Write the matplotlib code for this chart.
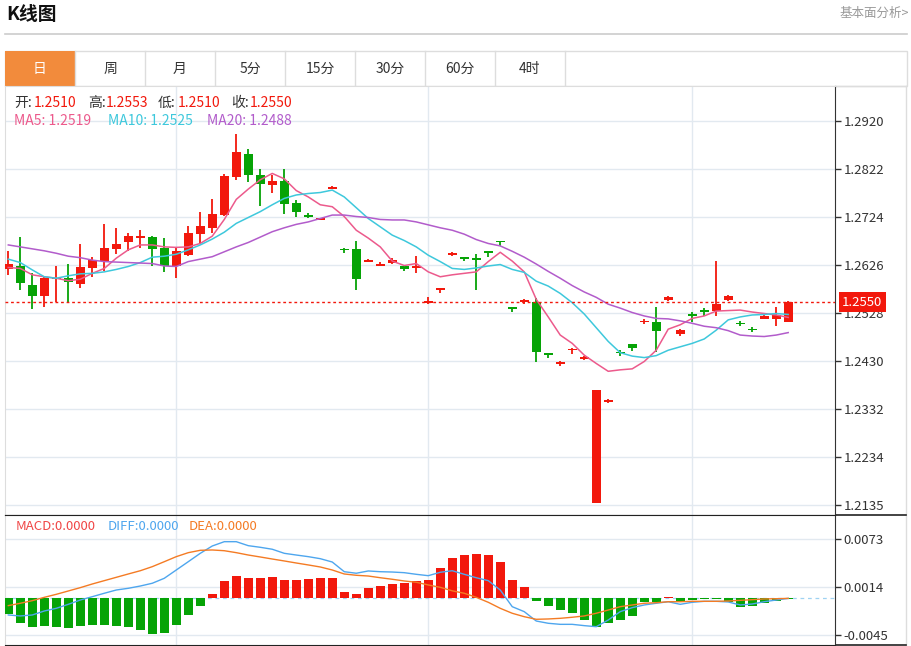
import matplotlib
matplotlib.use("Agg")
import matplotlib.pyplot as plt
import numpy as np
from matplotlib.patches import Rectangle

plt.rcParams["font.family"] = ["Noto Sans CJK SC", "DejaVu Sans"]

# ---- data (66 daily candles) ----
opens = [1.2618, 1.2623, 1.2585, 1.2563, 1.2598, 1.2599, 1.2588, 1.2620, 1.2634, 1.2658,
         1.2672, 1.2682, 1.2684, 1.2661, 1.2623, 1.2646, 1.2689, 1.2702, 1.2728, 1.2806,
         1.2852, 1.2809, 1.2790, 1.2798, 1.2753, 1.2729, 1.2718, 1.2782, 1.2659, 1.2658,
         1.2633, 1.2625, 1.2630, 1.2623, 1.2620, 1.2548, 1.2575, 1.2646, 1.2642, 1.2641,
         1.2654, 1.2676, 1.2540, 1.2550, 1.2551, 1.2446, 1.2424, 1.2452, 1.2434, 1.2141,
         1.2347, 1.2449, 1.2464, 1.2510, 1.2510, 1.2555, 1.2485, 1.2526, 1.2534, 1.2532,
         1.2555, 1.2508, 1.2496, 1.2516, 1.2516, 1.2510]
closes = [1.2628, 1.2590, 1.2563, 1.2599, 1.2599, 1.2591, 1.2622, 1.2636, 1.2660, 1.2669,
          1.2685, 1.2685, 1.2659, 1.2624, 1.2655, 1.2691, 1.2706, 1.2730, 1.2808, 1.2857,
          1.2810, 1.2791, 1.2797, 1.2751, 1.2734, 1.2725, 1.2721, 1.2786, 1.2656, 1.2598,
          1.2637, 1.2629, 1.2636, 1.2618, 1.2625, 1.2553, 1.2579, 1.2650, 1.2639, 1.2636,
          1.2650, 1.2673, 1.2536, 1.2554, 1.2449, 1.2443, 1.2427, 1.2455, 1.2438, 1.2371,
          1.2350, 1.2446, 1.2456, 1.2512, 1.2491, 1.2561, 1.2494, 1.2522, 1.2531, 1.2546,
          1.2562, 1.2505, 1.2493, 1.2522, 1.2523, 1.2550]
highs = [1.2655, 1.2683, 1.2609, 1.2604, 1.2624, 1.2629, 1.2669, 1.2642, 1.2710, 1.2702,
         1.2691, 1.2697, 1.2686, 1.2682, 1.2663, 1.2706, 1.2734, 1.2761, 1.2811, 1.2893,
         1.2862, 1.2823, 1.2810, 1.2823, 1.2759, 1.2732, 1.2723, 1.2787, 1.2660, 1.2675,
         1.2638, 1.2632, 1.2640, 1.2623, 1.2644, 1.2561, 1.2579, 1.2653, 1.2642, 1.2648,
         1.2655, 1.2676, 1.2540, 1.2556, 1.2558, 1.2446, 1.2430, 1.2456, 1.2440, 1.2371,
         1.2352, 1.2452, 1.2464, 1.2515, 1.2541, 1.2562, 1.2495, 1.2531, 1.2538, 1.2634,
         1.2564, 1.2511, 1.2500, 1.2524, 1.2541, 1.2553]
lows = [1.2606, 1.2574, 1.2536, 1.2541, 1.2550, 1.2550, 1.2580, 1.2602, 1.2613, 1.2648,
        1.2655, 1.2660, 1.2623, 1.2612, 1.2600, 1.2644, 1.2670, 1.2691, 1.2727, 1.2800,
        1.2795, 1.2746, 1.2774, 1.2731, 1.2725, 1.2721, 1.2717, 1.2781, 1.2650, 1.2576,
        1.2632, 1.2623, 1.2629, 1.2614, 1.2609, 1.2546, 1.2569, 1.2645, 1.2634, 1.2575,
        1.2643, 1.2665, 1.2531, 1.2546, 1.2427, 1.2436, 1.2420, 1.2445, 1.2432, 1.2141,
        1.2344, 1.2441, 1.2450, 1.2506, 1.2449, 1.2553, 1.2482, 1.2510, 1.2522, 1.2522,
        1.2553, 1.2501, 1.2489, 1.2515, 1.2502, 1.2510]

ma5 = [1.2621, 1.2619, 1.2606, 1.2602, 1.2599, 1.2594, 1.2597, 1.2609, 1.2619, 1.2640,
       1.2657, 1.2667, 1.2667, 1.2663, 1.2662, 1.2663, 1.2670, 1.2685, 1.2719, 1.2760,
       1.2781, 1.2800, 1.2813, 1.2802, 1.2778, 1.2765, 1.2749, 1.2745, 1.2725, 1.2697,
       1.2681, 1.2663, 1.2634, 1.2625, 1.2629, 1.2612, 1.2602, 1.2606, 1.2609, 1.2612,
       1.2633, 1.2652, 1.2634, 1.2612, 1.2556, 1.2520, 1.2483, 1.2466, 1.2442, 1.2425,
       1.2409, 1.2412, 1.2414, 1.2429, 1.2452, 1.2495, 1.2504, 1.2517, 1.2522, 1.2532,
       1.2533, 1.2534, 1.2530, 1.2527, 1.2524, 1.2519]
ma10 = [1.2638, 1.2631, 1.2616, 1.2602, 1.2599, 1.2604, 1.2608, 1.2609, 1.2612, 1.2617,
        1.2623, 1.2631, 1.2642, 1.2644, 1.2648, 1.2657, 1.2667, 1.2679, 1.2693, 1.2711,
        1.2723, 1.2735, 1.2749, 1.2762, 1.2769, 1.2772, 1.2774, 1.2779, 1.2765, 1.2743,
        1.2721, 1.2704, 1.2687, 1.2676, 1.2663, 1.2646, 1.2633, 1.2619, 1.2617, 1.2620,
        1.2624, 1.2627, 1.2617, 1.2611, 1.2593, 1.2583, 1.2568, 1.2549, 1.2526, 1.2498,
        1.2470, 1.2447, 1.2440, 1.2437, 1.2441, 1.2452, 1.2459, 1.2466, 1.2475, 1.2493,
        1.2514, 1.2520, 1.2524, 1.2525, 1.2527, 1.2525]
ma20 = [1.2667, 1.2663, 1.2659, 1.2655, 1.2650, 1.2644, 1.2641, 1.2636, 1.2633, 1.2632,
        1.2631, 1.2630, 1.2629, 1.2624, 1.2623, 1.2633, 1.2638, 1.2643, 1.2653, 1.2663,
        1.2672, 1.2683, 1.2694, 1.2702, 1.2709, 1.2714, 1.2721, 1.2728, 1.2728, 1.2725,
        1.2723, 1.2719, 1.2718, 1.2718, 1.2714, 1.2708, 1.2702, 1.2697, 1.2689, 1.2678,
        1.2670, 1.2665, 1.2654, 1.2642, 1.2628, 1.2613, 1.2599, 1.2584, 1.2571, 1.2560,
        1.2546, 1.2538, 1.2529, 1.2522, 1.2517, 1.2516, 1.2512, 1.2507, 1.2501, 1.2498,
        1.2492, 1.2483, 1.2481, 1.2480, 1.2483, 1.2488]

macd = [-0.00196, -0.00298, -0.00348, -0.00335, -0.00356, -0.00368, -0.00339, -0.00327, -0.00327, -0.00335,
        -0.00356, -0.00388, -0.00434, -0.00430, -0.00323, -0.00204, -0.00089, 0.00054, 0.00214, 0.00279,
        0.00251, 0.00251, 0.00259, 0.00222, 0.00226, 0.00243, 0.00255, 0.00251, 0.00083, 0.00054,
        0.00132, 0.00152, 0.00181, 0.00189, 0.00214, 0.00230, 0.00374, 0.00501, 0.00530, 0.00546,
        0.00533, 0.00447, 0.00226, 0.00136, -0.00036, -0.00089, -0.00143, -0.00179, -0.00266, -0.00348,
        -0.00298, -0.00266, -0.00216, -0.00044, -0.00044, 0.00013, -0.00048, -0.00020, -0.00011, -0.00007,
        -0.00041, -0.00102, -0.00093, -0.00053, -0.00028, -0.00004]
diff = [-0.00204, -0.00216, -0.00204, -0.00155, -0.00122, -0.00073, -0.00020, 0.00021, 0.00063, 0.00103,
        0.00124, 0.00152, 0.00186, 0.00247, 0.00349, 0.00451, 0.00554, 0.00644, 0.00697, 0.00697,
        0.00648, 0.00628, 0.00604, 0.00554, 0.00533, 0.00513, 0.00488, 0.00447, 0.00328, 0.00309,
        0.00337, 0.00328, 0.00324, 0.00316, 0.00296, 0.00279, 0.00321, 0.00340, 0.00296, 0.00254,
        0.00218, 0.00103, -0.00102, -0.00163, -0.00278, -0.00306, -0.00319, -0.00319, -0.00335, -0.00348,
        -0.00266, -0.00163, -0.00114, -0.00081, -0.00060, -0.00041, -0.00073, -0.00048, -0.00036, -0.00036,
        -0.00044, -0.00081, -0.00069, -0.00041, -0.00020, 0.00000]
dea = [-0.00089, -0.00060, -0.00028, 0.00013, 0.00050, 0.00091, 0.00132, 0.00177, 0.00218, 0.00259,
       0.00300, 0.00340, 0.00390, 0.00451, 0.00513, 0.00562, 0.00591, 0.00595, 0.00586, 0.00562,
       0.00533, 0.00509, 0.00484, 0.00460, 0.00435, 0.00411, 0.00386, 0.00349, 0.00300, 0.00284,
       0.00275, 0.00254, 0.00235, 0.00214, 0.00198, 0.00165, 0.00136, 0.00093, 0.00063, 0.00013,
       -0.00048, -0.00122, -0.00183, -0.00225, -0.00257, -0.00253, -0.00245, -0.00232, -0.00216, -0.00183,
       -0.00143, -0.00102, -0.00081, -0.00060, -0.00053, -0.00041, -0.00041, -0.00036, -0.00036, -0.00036,
       -0.00032, -0.00024, -0.00016, -0.00007, -0.00004, 0.00000]

price_ticks = [1.2920, 1.2822, 1.2724, 1.2626, 1.2528, 1.2430, 1.2332, 1.2234, 1.2135]
macd_ticks = [0.0073, 0.0014, -0.0045]
grid_days = [14, 35, 57]
tabs = ["日", "周", "月", "5分", "15分", "30分", "60分", "4时"]

RED = "#f2180c"
GREEN = "#06a306"
C5, C10, C20 = "#ec5a8c", "#3ec8dc", "#b25ccb"
CDIFF, CDEA = "#4ea6ee", "#f47b24"
GRID = "#e2e9f0"

W, H = 912, 646
fig = plt.figure(figsize=(W / 100, H / 100), dpi=100)


def box(x0, y0, x1, y1):
    return [x0 / W, 1 - y1 / H, (x1 - x0) / W, (y1 - y0) / H]


def label(x, y, s, **kw):
    # text placed in page pixels, drawn above all axes
    fig.text(x / W, 1 - y / H, s, va="center", zorder=10, **kw)


# page layer in pixel units for the header, tabs and frame
bg = fig.add_axes([0, 0, 1, 1], zorder=0)
bg.set_xlim(0, W)
bg.set_ylim(H, 0)
bg.axis("off")

bg.text(6, 14, "K线图", fontsize=13.5, fontweight="bold", color="#111", va="center")
bg.text(909, 13, "基本面分析>", fontsize=9, color="#999", va="center", ha="right")
bg.plot([5, 907], [34, 34], color="#cccccc", lw=1.2)

bg.add_patch(Rectangle((5, 51), 902, 35, fill=False, ec="#dddddd", lw=1))
for k, name in enumerate(tabs):
    x0 = 5 + 70 * k
    if k == 0:
        bg.add_patch(Rectangle((x0, 51), 70, 35, fc="#f28b3c", ec="none"))
    bg.plot([x0 + 70, x0 + 70], [51, 86], color="#dddddd", lw=1)
    bg.text(x0 + 35, 68.5, name, fontsize=10, ha="center", va="center",
            color="white" if k == 0 else "#333")

bg.plot([835, 906], [86, 86], color="#dddddd", lw=1)
bg.plot([906, 906], [86, 645], color="#dddddd", lw=1)
bg.plot([835, 906], [515, 515], color="#222", lw=1.2)
bg.plot([835, 906], [645, 645], color="#222", lw=1.2)

# ---- price panel ----
ax = fig.add_axes(box(5, 86, 835, 515), zorder=2)
mx = fig.add_axes(box(5, 515, 835, 645), zorder=2)

o = np.array(opens)
c = np.array(closes)
n = len(c)
idx = np.arange(n)
cols = np.where(c >= o, RED, GREEN)
body = np.abs(c - o)
bottom = np.minimum(o, c)
thin = body < 0.0003
bottom = np.where(thin, (o + c) / 2 - 0.00015, bottom)
body = np.where(thin, 0.0003, body)

for a in (ax, mx):
    a.set_xlim(-0.275, 68.9)
    for d in grid_days:
        a.axvline(d, color=GRID, lw=1, zorder=0)
    a.set_xticks([])
    a.yaxis.tick_right()
    a.tick_params(axis="y", direction="out", length=4, width=1, color="#333",
                  labelsize=9.5, labelcolor="#333", pad=2)
    a.grid(axis="y", color=GRID, lw=1, zorder=0)
    a.set_axisbelow(True)
    a.spines["left"].set_color("#dddddd")
    a.spines["right"].set_color("#333")

ax.spines["top"].set_color("#dddddd")
ax.spines["bottom"].set_color("#222")
mx.spines["top"].set_color("#222")
mx.spines["bottom"].set_color("#222")

ax.set_ylim(1.21156, 1.29915)
ax.set_yticks(price_ticks)
ax.set_yticklabels([f"{t:.4f}" for t in price_ticks])

ax.vlines(idx, lows, highs, colors=cols, lw=1.3, zorder=3)
ax.bar(idx, body, bottom=bottom, width=0.75, color=cols, zorder=4)
ax.plot(idx, ma5, color=C5, lw=1.1, zorder=5)
ax.plot(idx, ma10, color=C10, lw=1.1, zorder=5)
ax.plot(idx, ma20, color=C20, lw=1.1, zorder=5)

ax.axhline(closes[-1], color=RED, ls=(0, (2, 2)), lw=1, zorder=6)
ax.text(1 + 7 / 830, closes[-1], f"{closes[-1]:.4f}", transform=ax.get_yaxis_transform(),
        fontsize=9.5, color="white", va="center", ha="left", clip_on=False, zorder=10,
        bbox=dict(fc=RED, ec="none", pad=2.5))

# ---- MACD panel ----
m = np.array(macd)
mx.set_ylim(-0.00573, 0.01025)
mx.set_yticks(macd_ticks)
mx.set_yticklabels([f"{t:.4f}" for t in macd_ticks])
mx.axhline(0, color="#9fd2f2", ls=(0, (3, 3)), lw=0.9, zorder=1)
mx.bar(idx, m, width=0.75, color=np.where(m >= 0, RED, GREEN), zorder=3)
mx.plot(idx, diff, color=CDIFF, lw=1.0, zorder=4)
mx.plot(idx, dea, color=CDEA, lw=1.0, zorder=4)

# ---- legends ----
ohlc = [("开:", 14, "#333"), (f"{opens[-1]:.4f}", 34, RED),
        ("高:", 88, "#333"), (f"{highs[-1]:.4f}", 106, RED),
        ("低:", 158, "#333"), (f"{lows[-1]:.4f}", 178, RED),
        ("收:", 231, "#333"), (f"{closes[-1]:.4f}", 250, RED)]
for s, x, col in ohlc:
    label(x, 103, s, fontsize=10, color=col)

mas = [(f"MA5: {ma5[-1]:.4f}", 14, C5), (f"MA10: {ma10[-1]:.4f}", 108, C10),
       (f"MA20: {ma20[-1]:.4f}", 207, C20)]
for s, x, col in mas:
    label(x, 121, s, fontsize=10, color=col)

macd_leg = [(f"MACD:{0:.4f}", 16, "#f04646"), (f"DIFF:{0:.4f}", 108, CDIFF),
            (f"DEA:{0:.4f}", 189, CDEA)]
for s, x, col in macd_leg:
    label(x, 526, s, fontsize=9.5, color=col)

fig.savefig("out.png", dpi=100)
